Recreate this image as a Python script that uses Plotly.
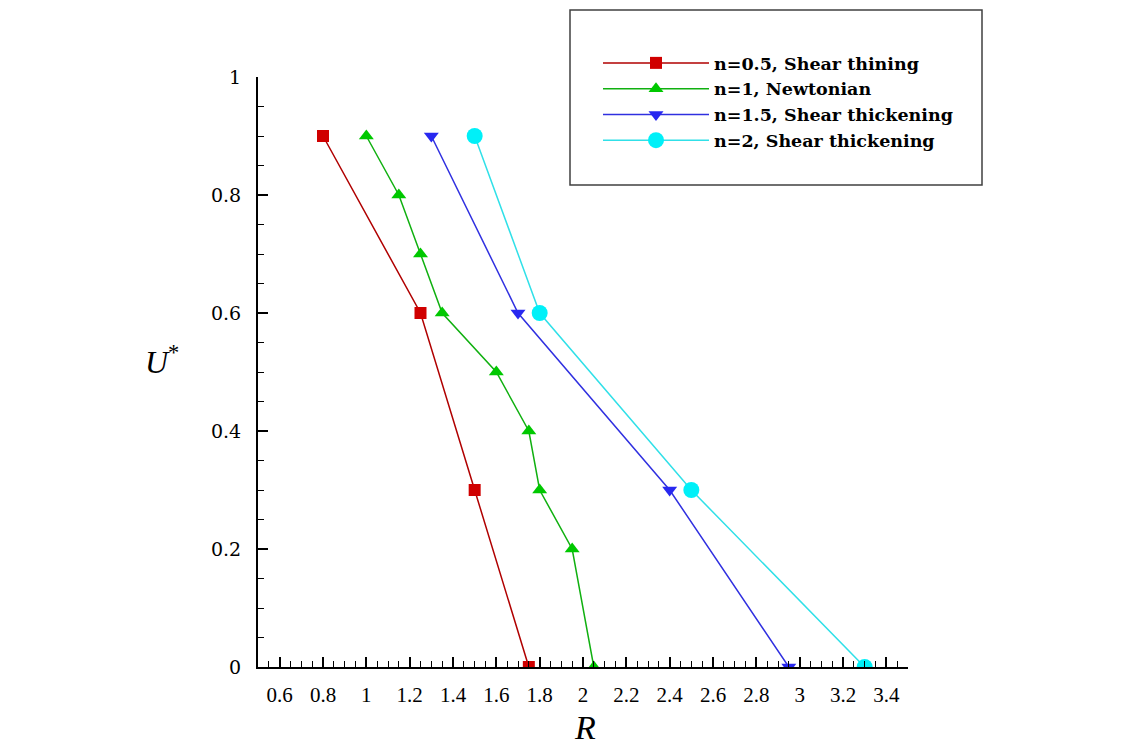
import plotly.graph_objects as go

# Data
r_shear_thin = [0.8, 1.25, 1.5, 1.75]
u_shear_thin = [0.9, 0.6, 0.3, 0.0]

r_newtonian = [1.0, 1.15, 1.25, 1.35, 1.6, 1.75, 1.8, 1.95, 2.05]
u_newtonian = [0.9, 0.8, 0.7, 0.6, 0.5, 0.4, 0.3, 0.2, 0.0]

r_thick15 = [1.3, 1.7, 2.4, 2.95]
u_thick15 = [0.9, 0.6, 0.3, 0.0]

r_thick2 = [1.5, 1.8, 2.5, 3.3]
u_thick2 = [0.9, 0.6, 0.3, 0.0]

x_tickvals = [0.6, 0.8, 1.0, 1.2, 1.4, 1.6, 1.8, 2.0, 2.2, 2.4, 2.6, 2.8, 3.0, 3.2, 3.4]
x_ticktext = ["0.6", "0.8", "1", "1.2", "1.4", "1.6", "1.8", "2", "2.2", "2.4", "2.6", "2.8", "3", "3.2", "3.4"]
y_tickvals = [0, 0.2, 0.4, 0.6, 0.8, 1.0]
y_ticktext = ["0", "0.2", "0.4", "0.6", "0.8", "1"]

names = ["n=0.5, Shear thining", "n=1, Newtonian", "n=1.5, Shear thickening", "n=2, Shear thickening"]

W, H = 1143, 746
L, R_, T, B = 258, 235, 77, 79
PW, PH = W - L - R_, H - T - B

fig = go.Figure()
fig.add_trace(go.Scatter(x=r_shear_thin, y=u_shear_thin, name=names[0], mode="lines+markers",
                         line=dict(color="#B00000", width=1.5),
                         marker=dict(symbol="square", size=12, color="#D00000")))
fig.add_trace(go.Scatter(x=r_newtonian, y=u_newtonian, name=names[1], mode="lines+markers",
                         line=dict(color="#10B010", width=1.5),
                         marker=dict(symbol="triangle-up", size=13, color="#00C800")))
fig.add_trace(go.Scatter(x=r_thick15, y=u_thick15, name=names[2], mode="lines+markers",
                         line=dict(color="#3030E0", width=1.5),
                         marker=dict(symbol="triangle-down", size=13, color="#2828F0")))
fig.add_trace(go.Scatter(x=r_thick2, y=u_thick2, name=names[3], mode="lines+markers",
                         line=dict(color="#30E0E8", width=1.5),
                         marker=dict(symbol="circle", size=16, color="#00F0F8")))

fig.update_layout(
    width=W, height=H,
    margin=dict(l=L, r=R_, t=T, b=B, autoexpand=False),
    plot_bgcolor="white", paper_bgcolor="white",
    font=dict(family="Liberation Serif", color="black"),
    showlegend=True,
    legend=dict(
        x=598 / W, y=1 - 45 / H, xref="container", yref="container", xanchor="left", yanchor="top",
        bgcolor="rgba(0,0,0,0)", borderwidth=0,
        font=dict(family="DejaVu Serif", size=17.5, color="black", weight="bold"),
        itemwidth=106, tracegroupgap=0,
    ),
    xaxis=dict(
        range=[0.5, 3.5], showgrid=False, zeroline=False,
        showline=True, linecolor="black", linewidth=2,
        ticks="inside", ticklen=10, tickwidth=1.5, tickcolor="black",
        tickvals=x_tickvals, ticktext=x_ticktext, ticklabelstandoff=8,
        tickfont=dict(family="Liberation Serif", size=21),
        minor=dict(dtick=0.05, ticks="inside", ticklen=6, tickwidth=1, tickcolor="black", showgrid=False),
    ),
    yaxis=dict(
        range=[0, 1], showgrid=False, zeroline=False,
        showline=True, linecolor="black", linewidth=2,
        ticks="inside", ticklen=10, tickwidth=1.5, tickcolor="black",
        tickvals=y_tickvals, ticktext=y_ticktext, ticklabelstandoff=11,
        tickfont=dict(family="DejaVu Serif", size=19),
        minor=dict(dtick=0.05, ticks="inside", ticklen=6, tickwidth=1, tickcolor="black", showgrid=False),
    ),
    shapes=[dict(type="rect", xref="paper", yref="paper",
                 x0=(570 - L) / PW, x1=(982 - L) / PW,
                 y0=(H - B - 185) / PH, y1=(H - B - 10) / PH,
                 line=dict(color="#404040", width=1.5), fillcolor="rgba(0,0,0,0)", layer="above")],
    annotations=[
        dict(text="<i>R</i>", xref="paper", yref="paper", x=(585 - L) / PW, y=-(727 - (H - B)) / PH,
             showarrow=False, font=dict(family="Liberation Serif", size=34),
             xanchor="center", yanchor="middle"),
        dict(text="<i>U</i><sup>*</sup>", xref="paper", yref="paper", x=(162 - L) / PW,
             y=(H - B - 360) / PH, showarrow=False, font=dict(family="Liberation Serif", size=32),
             xanchor="center", yanchor="middle"),
    ],
)

fig.write_html("out.html")
